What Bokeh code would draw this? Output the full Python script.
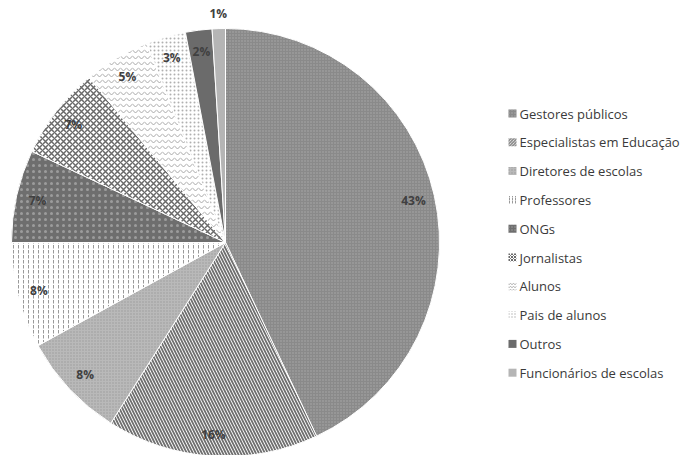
import math
from bokeh.plotting import figure
from bokeh.models import ColumnDataSource, Range1d
from bokeh.core.properties import value
from bokeh.embed import file_html
from bokeh.resources import INLINE

# Audience of the survey, share of respondents (%)
categories = [
    "Gestores públicos",
    "Especialistas em Educação",
    "Diretores de escolas",
    "Professores",
    "ONGs",
    "Jornalistas",
    "Alunos",
    "Pais de alunos",
    "Outros",
    "Funcionários de escolas",
]
shares = [43, 16, 8, 8, 7, 7, 5, 3, 2, 1]

# Slice styling (grey fills with hatch textures)
fill_colors = ["#8a8a8a", "#ffffff", "#b9b9b9", "#ffffff", "#6e6e6e",
               "#ffffff", "#ffffff", "#ffffff", "#6b6b6b", "#b5b5b5"]
hatch_patterns = ["dot", "left_diagonal_line", "dot", "vertical_dash", "dot",
                  "diagonal_cross", "horizontal_wave", "dot", " ", " "]
hatch_colors = ["#a9a9a9", "#6f6f6f", "#9a9a9a", "#9a9a9a", "#9c9c9c",
                "#6a6a6a", "#a8a8a8", "#b0b0b0", "#6b6b6b", "#b5b5b5"]
hatch_scales = [3, 6, 3, 5, 6, 6, 6, 4, 12, 12]
hatch_weights = [1, 1.8, 1, 1, 1, 1.5, 1, 1, 1, 1]

W, H = 691, 455
CX, CY_PIX, R = 225, 242, 214
CY = H - CY_PIX

total = float(sum(shares))
starts, ends, lx, ly, labels = [], [], [], [], []
cum = 0.0
for s in shares:
    a0 = cum / total * 2 * math.pi
    cum += s
    a1 = cum / total * 2 * math.pi
    # clockwise from 12 o'clock
    starts.append(math.pi / 2 - a0)
    ends.append(math.pi / 2 - a1)
    mid = (a0 + a1) / 2
    rr = R * (0.9 if s >= 2 else 1.07)
    lx.append(CX + rr * math.sin(mid))
    ly.append(CY + rr * math.cos(mid))
    labels.append(f"{s}%")

src = ColumnDataSource(dict(
    start=starts, end=ends, fill=fill_colors, hp=hatch_patterns,
    hc=hatch_colors, hs=hatch_scales, hw=hatch_weights,
))

p = figure(width=W, height=H, x_range=Range1d(0, W), y_range=Range1d(0, H),
           output_backend="svg", toolbar_location=None, min_border=0)
p.axis.visible = False
p.grid.visible = False
p.outline_line_color = None
p.background_fill_color = "white"
p.border_fill_color = "white"

p.wedge(x=CX, y=CY, radius=R, start_angle="start", end_angle="end",
        direction="clock", source=src, fill_color="fill",
        hatch_pattern="hp", hatch_color="hc", hatch_scale="hs",
        hatch_weight="hw", line_color="white", line_width=1)

p.text(x=lx, y=ly, text=labels, text_align="center", text_baseline="middle",
       text_font=value("Open Sans"), text_font_size="12px",
       text_font_style="bold", text_color="#404040")

# Legend on the right
leg_y = [H - (113 + 28.8 * i) for i in range(len(categories))]
leg_src = ColumnDataSource(dict(
    y=leg_y, name=categories, fill=fill_colors, hp=hatch_patterns,
    hc=hatch_colors, hs=[min(v, 3) for v in hatch_scales], hw=[1] * len(categories),
))
p.rect(x=512, y="y", width=8, height=8, source=leg_src, fill_color="fill",
       hatch_pattern="hp", hatch_color="hc", hatch_scale="hs",
       hatch_weight="hw", line_color=None)
p.text(x=519, y="y", text="name", source=leg_src, text_align="left",
       text_baseline="middle", text_font=value("Open Sans"),
       text_font_size="13px", text_color="#3a3a3a")

open("out.html", "w").write(file_html(p, INLINE))
